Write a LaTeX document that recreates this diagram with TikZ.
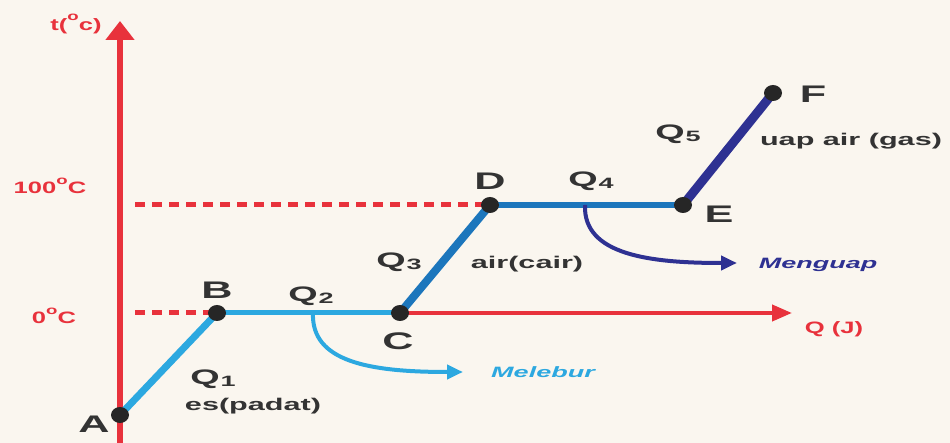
\documentclass[tikz,border=0pt]{standalone}
\usepackage{fontspec}
\setmainfont{Liberation Sans}
\newfontfamily\widefont{Liberation Sans}[FakeStretch=1.8]
\newfontfamily\axisfont{Liberation Sans}[FakeStretch=1.55]
\usetikzlibrary{arrows.meta}

\definecolor{bgcream}{HTML}{FAF6EF}
\definecolor{axisred}{HTML}{E8323C}
\definecolor{iceblue}{HTML}{2CA8E0}
\definecolor{waterblue}{HTML}{1C76BC}
\definecolor{steamblue}{HTML}{2E3192}
\definecolor{labelgray}{HTML}{333333}

\begin{document}
\begin{tikzpicture}[x=1pt,y=-1pt,
	letter/.style={font={\widefont\bfseries\fontsize{24}{26}\selectfont}, text=labelgray, inner sep=0pt},
	heat/.style={font={\widefont\bfseries\fontsize{21}{23}\selectfont}, text=labelgray, inner sep=0pt},
	phase/.style={font={\widefont\bfseries\fontsize{17}{19}\selectfont}, text=labelgray, inner sep=0pt},
	axislabel/.style={font={\axisfont\bfseries\fontsize{16.5}{18}\selectfont}, text=axisred, inner sep=0pt},
	process/.style={font={\widefont\bfseries\itshape\fontsize{15}{17}\selectfont}, inner sep=0pt},
	level/.style={axisred, line width=5pt, dash pattern=on 10pt off 7pt}]
	\newcommand{\dotRadius}{8}
	\newcommand{\qlab}[1]{Q\kern1pt\raisebox{-2pt}{\fontsize{15}{15}\selectfont #1}}
	\newcommand{\degO}{\raisebox{1.1ex}{\fontsize{12}{12}\selectfont o}}
	\newcommand{\degC}{\degO C}

	\fill[bgcream] (0,0) rectangle (950,443);
	\useasboundingbox (0,0) rectangle (950,443);

	% points of the graph
	\coordinate (A) at (120,415);
	\coordinate (B) at (217,313);
	\coordinate (C) at (400,313);
	\coordinate (D) at (490,205);
	\coordinate (E) at (683,205);
	\coordinate (F) at (773,93);
	\coordinate (t_low) at (120,443);
	\coordinate (t_top) at (120,21);
	\coordinate (q_end) at (792,313);
	\coordinate (zero_start) at (135,313);
	\coordinate (hundred_start) at (135,205);

	% dashed levels
	\draw[level] (zero_start) -- (B);
	\draw[level] (hundred_start) -- (D);

	% draw axes
	\draw[axisred, line width=6pt, -{Triangle[length=19pt,width=28pt]}] (t_low) -- (t_top);
	\draw[axisred, line width=4pt, -{Triangle[length=20pt,width=16pt]}] (C) -- (q_end);

	% heating curve
	\draw[iceblue, line width=7pt] (A) -- (B);
	\draw[iceblue, line width=5pt] (B) -- (C);
	\draw[waterblue, line width=8pt] (C) -- (D);
	\draw[waterblue, line width=6pt] (D) -- (E);
	\draw[steamblue, line width=9pt] (E) -- (F);

	% phase changes
	\coordinate (melt_start) at (313,313);
	\coordinate (melt_end) at (463,372);
	\coordinate (boil_start) at (585,205);
	\coordinate (boil_end) at (737,263);
	\draw[iceblue, line width=4pt, -{Triangle[length=16pt,width=14pt]}] (melt_start) .. controls (311,362) and (370,372) .. (melt_end);
	\draw[steamblue, line width=4pt, -{Triangle[length=16pt,width=14pt]}] (boil_start) .. controls (583,255) and (650,263) .. (boil_end);

	\foreach \p in {A,B,C,D,E,F}
		\fill[black!85] (\p) ellipse ({\dotRadius+1} and \dotRadius);

	% labels
	\node[axislabel] (t_lbl) at (76,24) {t(\degO c)};
	\node[axislabel] (hundred_lbl) at (50,186) {100\degC};
	\node[axislabel] (zero_lbl) at (54,316) {0\degC};
	\node[axislabel] (q_lbl) at (834,329) {Q (J)};

	\node[letter] (A_lbl) at (94,424) {A};
	\node[letter] (B_lbl) at (217,290) {B};
	\node[letter] (C_lbl) at (398,341) {C};
	\node[letter] (D_lbl) at (490,181) {D};
	\node[letter] (E_lbl) at (719,214) {E};
	\node[letter] (F_lbl) at (813,94) {F};

	\node[heat] (q1) at (213,379) {\qlab{1}};
	\node[heat] (q2) at (311,296) {\qlab{2}};
	\node[heat] (q3) at (399,262) {\qlab{3}};
	\node[heat] (q4) at (591,181) {\qlab{4}};
	\node[heat] (q5) at (678,134) {\qlab{5}};

	\node[phase] (solid) at (253,406) {es(padat)};
	\node[phase] (liquid) at (527,264) {air(cair)};
	\node[phase] (gas) at (851,141) {uap air (gas)};

	\node[process, text=iceblue] (melt_lbl) at (543,372) {Melebur};
	\node[process, text=steamblue] (boil_lbl) at (818,265) {Menguap};
\end{tikzpicture}
\end{document}
